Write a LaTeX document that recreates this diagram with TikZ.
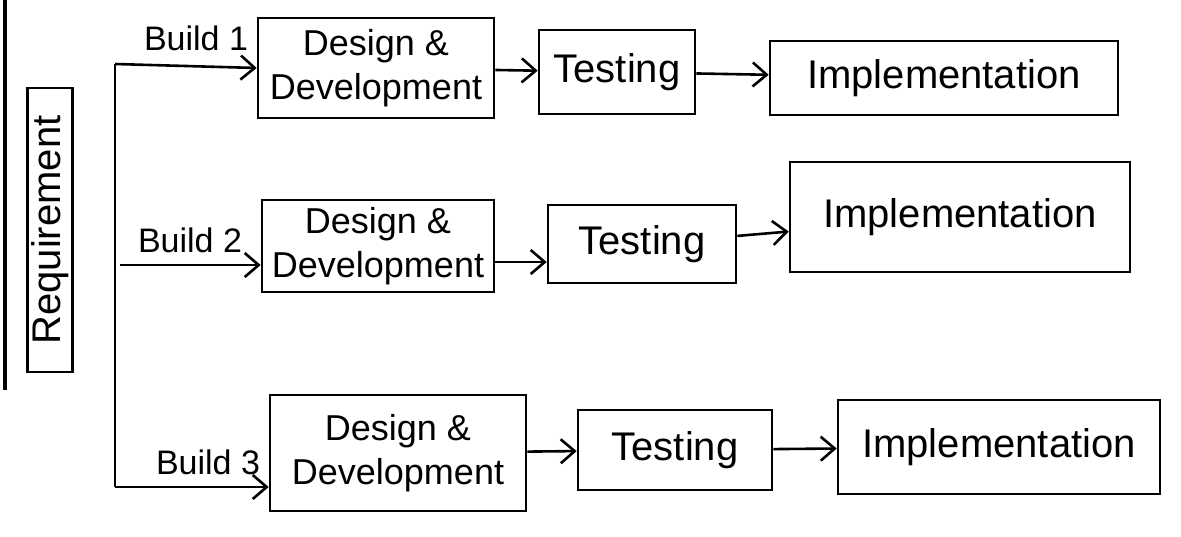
\documentclass[tikz,border=0pt]{standalone}
\usepackage{fontspec}
\setmainfont{Liberation Sans}
\usetikzlibrary{arrows.meta, positioning}

\begin{document}
\begin{tikzpicture}[
    x=0.5pt, y=-0.5pt,
    line width=1.3pt,
    box/.style={rectangle, draw, line width=1.3pt, align=center, font=\fontsize{20}{23}\selectfont, inner sep=2pt},
    dbox/.style={box, font=\fontsize{18}{22}\selectfont},
    build/.style={font=\fontsize{17}{20}\selectfont, inner sep=1pt},
    arrow/.style={-{Straight Barb[length=7pt, width=12pt]}, line width=1.3pt},
]
\useasboundingbox (0,0) rectangle (1181,536);

% page margin
\draw[line width=2pt] (5,0) -- (5,390);

\node[box, rotate=90, minimum width=142pt, minimum height=21pt] (req) at (50,230) {Requirement};

% first row
\node[dbox, minimum width=118pt, minimum height=50pt] (d1) at (376,68) {Design \&\\Development};
\node[box, minimum width=78pt, minimum height=42pt] (t1) at (617,72) {Testing};
\node[box, minimum width=174pt, minimum height=37pt] (i1) at (944,78) {Implementation};

% second row
\node[dbox, minimum width=116pt, minimum height=46pt] (d2) at (378,246) {Design \&\\Development};
\node[box, minimum width=94pt, minimum height=39pt] (t2) at (642,244) {Testing};
\node[box, minimum width=170pt, minimum height=55pt] (i2) at (960,217) {Implementation};

% third row
\node[dbox, minimum width=128pt, minimum height=58pt] (d3) at (398,453) {Design \&\\Development};
\node[box, minimum width=97pt, minimum height=40pt] (t3) at (675,450) {Testing};
\node[box, minimum width=161pt, minimum height=47pt] (i3) at (999,447) {Implementation};

% branches
\coordinate (b1) at (115,64);
\coordinate (b2) at (120,265);
\coordinate (b3) at (115,487);
\node[build] (l1) at (196,38) {Build 1};
\node[build] (l2) at (190,240) {Build 2};
\node[build] (l3) at (208,462) {Build 3};

\draw (b1) -- (b3);
\draw[arrow] (b1) -- (d1.west);
\draw[arrow] (b2) -- (d2.west |- b2);
\draw[arrow] (b3) -- (d3.west |- b3);

\draw[arrow] (d1) -- (t1);
\draw[arrow] (t1) -- (i1);
\draw[arrow] (d2.east |- 0,262) -- (t2.west |- 0,262);
\draw[arrow] (t2) -- (i2);
\draw[arrow] (d3) -- (t3);
\draw[arrow] (t3) -- (i3);

\end{tikzpicture}
\end{document}
